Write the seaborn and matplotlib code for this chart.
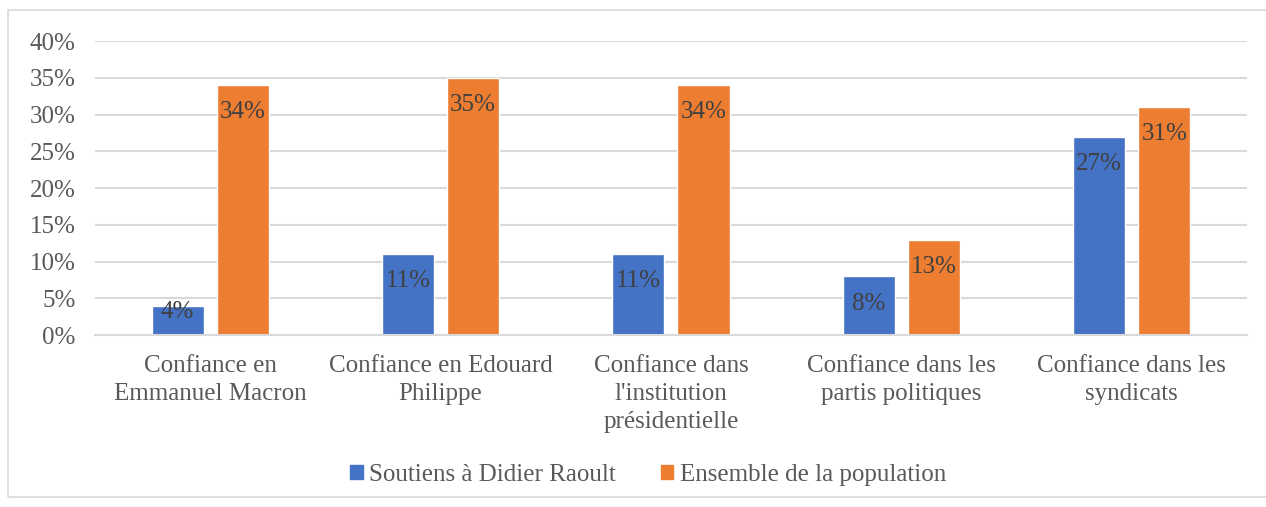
import pandas as pd
import numpy as np
import seaborn as sns
import matplotlib.pyplot as plt
from matplotlib.patches import Rectangle
from matplotlib.ticker import PercentFormatter

categories = ["Confiance en\nEmmanuel Macron", "Confiance en Edouard\nPhilippe",
              "Confiance dans\nl'institution\nprésidentielle",
              "Confiance dans les\npartis politiques", "Confiance dans les\nsyndicats"]
series = ["Soutiens à Didier Raoult", "Ensemble de la population"]
raoult = [4, 11, 11, 8, 27]
ensemble = [34, 35, 34, 13, 31]
colors = ["#4472C4", "#ED7D31"]

df = pd.DataFrame({
    "cat": categories * 2,
    "serie": [series[0]] * 5 + [series[1]] * 5,
    "val": raoult + ensemble,
})

sns.set_theme(style="white")
plt.rcParams['font.family'] = ['Liberation Serif', 'DejaVu Serif']

fig = plt.figure(figsize=(12.66, 5.07), dpi=100)
ax = fig.add_axes([0.075, 0.339, 0.91, 0.58])

# frame round the chart
fig.patches.append(Rectangle((8 / 1266, 1 - 497 / 507), 1.0, 487 / 507,
                             transform=fig.transFigure, fill=False,
                             edgecolor="#D9D9D9", linewidth=1.2))

sns.barplot(data=df, x="cat", y="val", hue="serie", palette=colors,
            width=0.565, gap=0.2, ax=ax, saturation=1, legend=False)

ax.set_ylim(0, 40)
ax.set_yticks(np.arange(0, 41, 5))
ax.yaxis.set_major_formatter(PercentFormatter(decimals=0))
ax.yaxis.grid(True, color="#D9D9D9", linewidth=1.5)
ax.set_axisbelow(True)
for s in ["left", "right", "top"]:
    ax.spines[s].set_visible(False)
ax.spines["bottom"].set_color("#D9D9D9")
ax.spines["bottom"].set_linewidth(1.5)
ax.set_xlabel("")
ax.set_ylabel("")
ax.tick_params(axis="y", labelsize=18, labelcolor="#595959", pad=14, length=0)
ax.tick_params(axis="x", labelsize=18, labelcolor="#595959", pad=14, length=0)
for t in ax.get_xticklabels():
    t.set_linespacing(1.38)
ax.set_xlim(-0.5, 4.5)

for cont in ax.containers:
    for bar in cont:
        v = bar.get_height()
        y = v - 3.7 if v > 6 else v * 0.8
        ax.text(bar.get_x() + bar.get_width() / 2, y, f"{v:.0f}%",
                ha="center", va="center", fontsize=18, color="#404040")

handles = [Rectangle((0, 0), 1, 1, color=c) for c in colors]
fig.legend(handles, series, loc="center", bbox_to_anchor=(0.512, 0.063), ncol=2,
           frameon=False, fontsize=18, labelcolor="#595959",
           handlelength=0.5, handleheight=0.5, handletextpad=0.25, columnspacing=1.8)

fig.savefig("out.png", dpi=100)
